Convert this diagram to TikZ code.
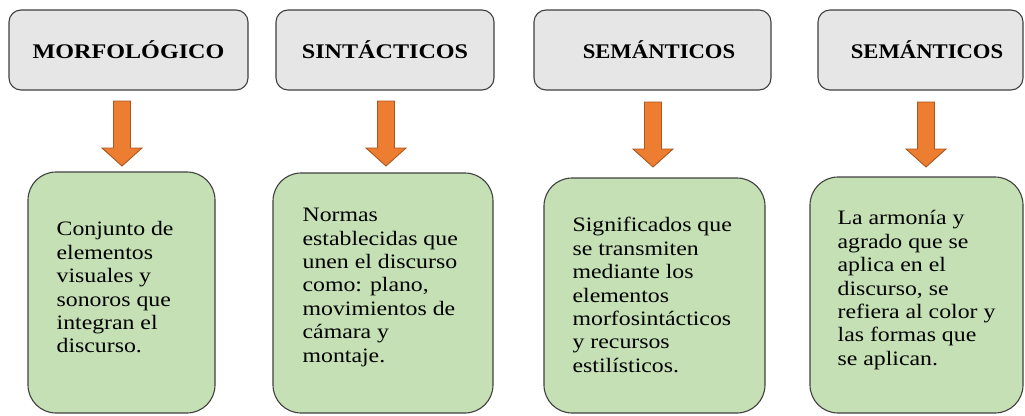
\documentclass[tikz,border=0pt]{standalone}
\usepackage{fontspec}
\setmainfont{Liberation Serif}[FakeStretch=1.16]
\usetikzlibrary{calc}
\definecolor{boxgray}{HTML}{E7E6E6}
\definecolor{boxgreen}{HTML}{C5E0B4}
\definecolor{arrorange}{HTML}{ED7D31}
\definecolor{arredge}{HTML}{A9561F}
\definecolor{edgegray}{HTML}{404040}
\begin{document}
\begin{tikzpicture}[x=1pt,y=-1pt,
  headbox/.style={draw=edgegray, fill=boxgray, line width=1.1pt, rounded corners=12pt,
    minimum height=80pt, inner sep=0pt, font=\fontsize{20.8}{24}\selectfont\bfseries},
  bodybox/.style={draw=edgegray, fill=boxgreen, line width=1.1pt, rounded corners=28pt, inner sep=0pt},
  bodytext/.style={align=left, inner sep=0pt, anchor=west, font=\fontsize{20.5}{23.4}\selectfont},
  blockarr/.style={draw=arredge, fill=arrorange, line width=0.9pt, line join=miter}]
\useasboundingbox (0,0) rectangle (1025,415);
\fill[white] (0,0) rectangle (1025,415);
% header boxes
\node[headbox, minimum width=239pt] (t1) at (128.5,50) {MORFOLÓGICO};
\node[headbox, minimum width=218pt] (t2) at (385,50) {SINTÁCTICOS};
\node[headbox, minimum width=237pt] (t3) at (652.5,50) {\hspace*{13pt}\scalebox{0.94}[1]{SEMÁNTICOS}};
\node[headbox, minimum width=205pt] (t4) at (920.5,50) {\hspace*{13pt}\scalebox{0.94}[1]{SEMÁNTICOS}};
% body boxes
\node[bodybox, minimum width=187pt, minimum height=241pt] (b1) at (121.5,292.5) {};
\node[bodybox, minimum width=220pt, minimum height=240pt] (b2) at (383,293) {};
\node[bodybox, minimum width=221pt, minimum height=235pt] (b3) at (654.5,295.5) {};
\node[bodybox, minimum width=213pt, minimum height=236pt] (b4) at (916.5,295) {};
% body texts
\node[bodytext] (x1) at ($(b1.west)+(29,-5)$) {Conjunto de\\elementos\\visuales y\\sonoros que\\integran el\\discurso.};
\node[bodytext] (x2) at ($(b2.west)+(30,-5.6)$) {Normas\\establecidas que\\unen el discurso\\como: plano,\\movimientos de\\cámara y\\montaje.};
\node[bodytext] (x3) at ($(b3.west)+(29,-0.5)$) {Significados que\\se transmiten\\mediante los\\elementos\\morfosintácticos\\y recursos\\estilísticos.};
\node[bodytext] (x4) at ($(b4.west)+(28,-4.8)$) {La armonía y\\agrado que se\\aplica en el\\discurso, se\\refiera al color y\\las formas que\\se aplican.};
% arrows
\coordinate (a1) at (122,101);
\coordinate (a2) at (386,101);
\coordinate (a3) at (653,102);
\coordinate (a4) at (926,102);
\foreach \a in {a1,a2,a3,a4}{
  \draw[blockarr] (\a) ++(-8.5,0) -- ++(17,0) -- ++(0,47) -- ++(11.5,0) -- ++(-20,18) -- ++(-20,-18) -- ++(11.5,0) -- cycle;
}
\end{tikzpicture}
\end{document}
